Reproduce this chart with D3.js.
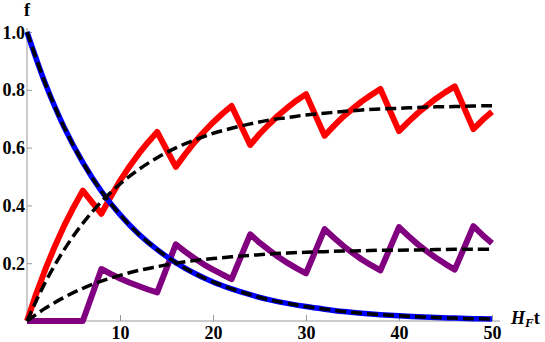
<!DOCTYPE html>
<html>
<head>
<meta charset="utf-8">
<script src="https://cdn.jsdelivr.net/npm/d3@7"></script>
<style>
	body { margin: 0; background: #fff; }
	svg { display: block; }
	.tick-label { font-family: "Liberation Serif", "Times New Roman", serif; font-weight: bold; font-size: 18px; fill: #000; }
</style>
</head>
<body>
<script>
// values
var tSmooth = [0, 2, 4, 6, 8, 10, 12, 14, 16, 18, 20, 22, 24, 26, 28, 30, 32, 34, 36, 38, 40, 42, 44, 46, 48, 50];
var blueF = [1.000, 0.819, 0.670, 0.549, 0.449, 0.368, 0.301, 0.247, 0.202, 0.165, 0.135, 0.111, 0.091,
	0.074, 0.061, 0.050, 0.041, 0.033, 0.027, 0.022, 0.018, 0.015, 0.012, 0.010, 0.008, 0.007];
var upperMeanF = [0, 0.136, 0.247, 0.338, 0.413, 0.474, 0.524, 0.565, 0.599, 0.626, 0.649, 0.667, 0.682,
	0.695, 0.704, 0.713, 0.719, 0.725, 0.730, 0.734, 0.736, 0.739, 0.741, 0.742, 0.744, 0.745];
var lowerMeanF = [0, 0.045, 0.082, 0.113, 0.138, 0.158, 0.175, 0.188, 0.200, 0.209, 0.216, 0.222, 0.227,
	0.232, 0.235, 0.238, 0.240, 0.242, 0.243, 0.245, 0.245, 0.246, 0.247, 0.248, 0.248, 0.248];

var redT = [0, 1, 2, 3, 4, 5, 6, 8, 9, 10, 11, 12, 13, 14, 16, 17, 18, 19, 20, 21, 22, 24, 25, 26, 27, 28, 29, 30,
	32, 33, 34, 35, 36, 37, 38, 40, 41, 42, 43, 44, 45, 46, 48, 49, 50];
var redF = [0, 0.095, 0.181, 0.259, 0.330, 0.393, 0.451, 0.371, 0.430, 0.485, 0.534, 0.578, 0.618, 0.654,
	0.533, 0.577, 0.618, 0.654, 0.687, 0.717, 0.744, 0.609, 0.647, 0.680, 0.711, 0.738, 0.763, 0.785,
	0.641, 0.675, 0.707, 0.734, 0.760, 0.782, 0.803, 0.657, 0.689, 0.719, 0.745, 0.770, 0.792, 0.812,
	0.664, 0.696, 0.724];

var purpleT = [0, 6, 8, 9, 10, 11, 12, 13, 14, 16, 17, 18, 19, 20, 21, 22, 24, 25, 26, 27, 28, 29, 30,
	32, 33, 34, 35, 36, 37, 38, 40, 41, 42, 43, 44, 45, 46, 48, 49, 50];
var purpleF = [0, 0, 0.180, 0.163, 0.147, 0.133, 0.121, 0.109, 0.099, 0.265, 0.240, 0.217, 0.196, 0.178,
	0.161, 0.145, 0.300, 0.271, 0.246, 0.222, 0.201, 0.182, 0.165, 0.318, 0.288, 0.260, 0.236, 0.213,
	0.193, 0.175, 0.325, 0.294, 0.266, 0.241, 0.218, 0.197, 0.178, 0.328, 0.297, 0.269];

var xMajorTicks = [10, 20, 30, 40, 50];
var xMinorTicks = [2, 4, 6, 8, 12, 14, 16, 18, 22, 24, 26, 28, 32, 34, 36, 38, 42, 44, 46, 48];
var yMajorTicks = [0.2, 0.4, 0.6, 0.8, 1.0];
var yMinorTicks = [0.05, 0.1, 0.15, 0.25, 0.3, 0.35, 0.45, 0.5, 0.55, 0.65, 0.7, 0.75, 0.85, 0.9, 0.95];

var width = 545, height = 342;
var axisColor = '#999';

var svg = d3.select('body').append('svg')
	.attr('width', width)
	.attr('height', height);

var x = d3.scaleLinear().domain([0, 50]).range([27, 492]);
var y = d3.scaleLinear().domain([0, 1]).range([321, 32]);

// axes (Mathematica style: ticks point inwards)
var xAxisEl = svg.append('g').attr('transform', 'translate(0,' + y(0) + ')');
xAxisEl.call(d3.axisBottom(x).tickValues(xMinorTicks).tickSize(-3.5).tickFormat(''));
xAxisEl.call(d3.axisBottom(x).tickValues(xMajorTicks).tickSize(-6).tickPadding(5).tickFormat(d3.format('d')));

var yAxisEl = svg.append('g').attr('transform', 'translate(' + x(0) + ',0)');
yAxisEl.call(d3.axisLeft(y).tickValues(yMinorTicks).tickSize(-3.5).tickFormat(''));
yAxisEl.call(d3.axisLeft(y).tickValues(yMajorTicks).tickSize(-5).tickPadding(2).tickFormat(d3.format('.1f')));

svg.selectAll('.domain').remove();
svg.selectAll('.tick line').attr('stroke', axisColor);
svg.selectAll('.tick text').attr('class', 'tick-label').attr('font-family', null).attr('font-size', null);
yAxisEl.selectAll('.tick text').attr('dy', '0.34em');

svg.append('line').attr('x1', x(0)).attr('x2', x(50) + 8).attr('y1', y(0)).attr('y2', y(0))
	.attr('stroke', axisColor);
svg.append('line').attr('x1', x(0)).attr('x2', x(0)).attr('y1', y(0)).attr('y2', y(1) - 4)
	.attr('stroke', axisColor);

// axis labels
svg.append('text').attr('class', 'tick-label').attr('x', x(0)).attr('y', 16)
	.attr('text-anchor', 'middle').text('f');
var xLab = svg.append('text').attr('class', 'tick-label').attr('x', 511).attr('y', 324);
xLab.append('tspan').attr('font-style', 'italic').text('H');
xLab.append('tspan').attr('font-style', 'italic').attr('font-size', '13px').attr('dy', 3).text('F');
xLab.append('tspan').attr('dy', -3).text('t');

// curves
var plot = svg.append('g');

var smoothLine = d3.line()
	.x(function (d) { return x(d[0]); })
	.y(function (d) { return y(d[1]); })
	.curve(d3.curveCatmullRom);
var straightLine = d3.line()
	.x(function (d) { return x(d[0]); })
	.y(function (d) { return y(d[1]); });

function zip(a, b) { return a.map(function (v, i) { return [v, b[i]]; }); }

plot.append('path').datum(zip(redT, redF))
	.attr('d', straightLine).attr('fill', 'none').attr('stroke', '#ff0000')
	.attr('stroke-width', 6).attr('stroke-linejoin', 'round');
plot.append('path').datum(zip(purpleT, purpleF))
	.attr('d', straightLine).attr('fill', 'none').attr('stroke', '#800080')
	.attr('stroke-width', 6).attr('stroke-linejoin', 'round');
plot.append('path').datum(zip(tSmooth, blueF))
	.attr('d', smoothLine).attr('fill', 'none').attr('stroke', '#0000ff')
	.attr('stroke-width', 5.5);

[blueF, upperMeanF, lowerMeanF].forEach(function (vals) {
	plot.append('path').datum(zip(tSmooth, vals))
		.attr('d', smoothLine).attr('fill', 'none').attr('stroke', '#000')
		.attr('stroke-width', 3.5).attr('stroke-dasharray', '11,5');
});
</script>
</body>
</html>
